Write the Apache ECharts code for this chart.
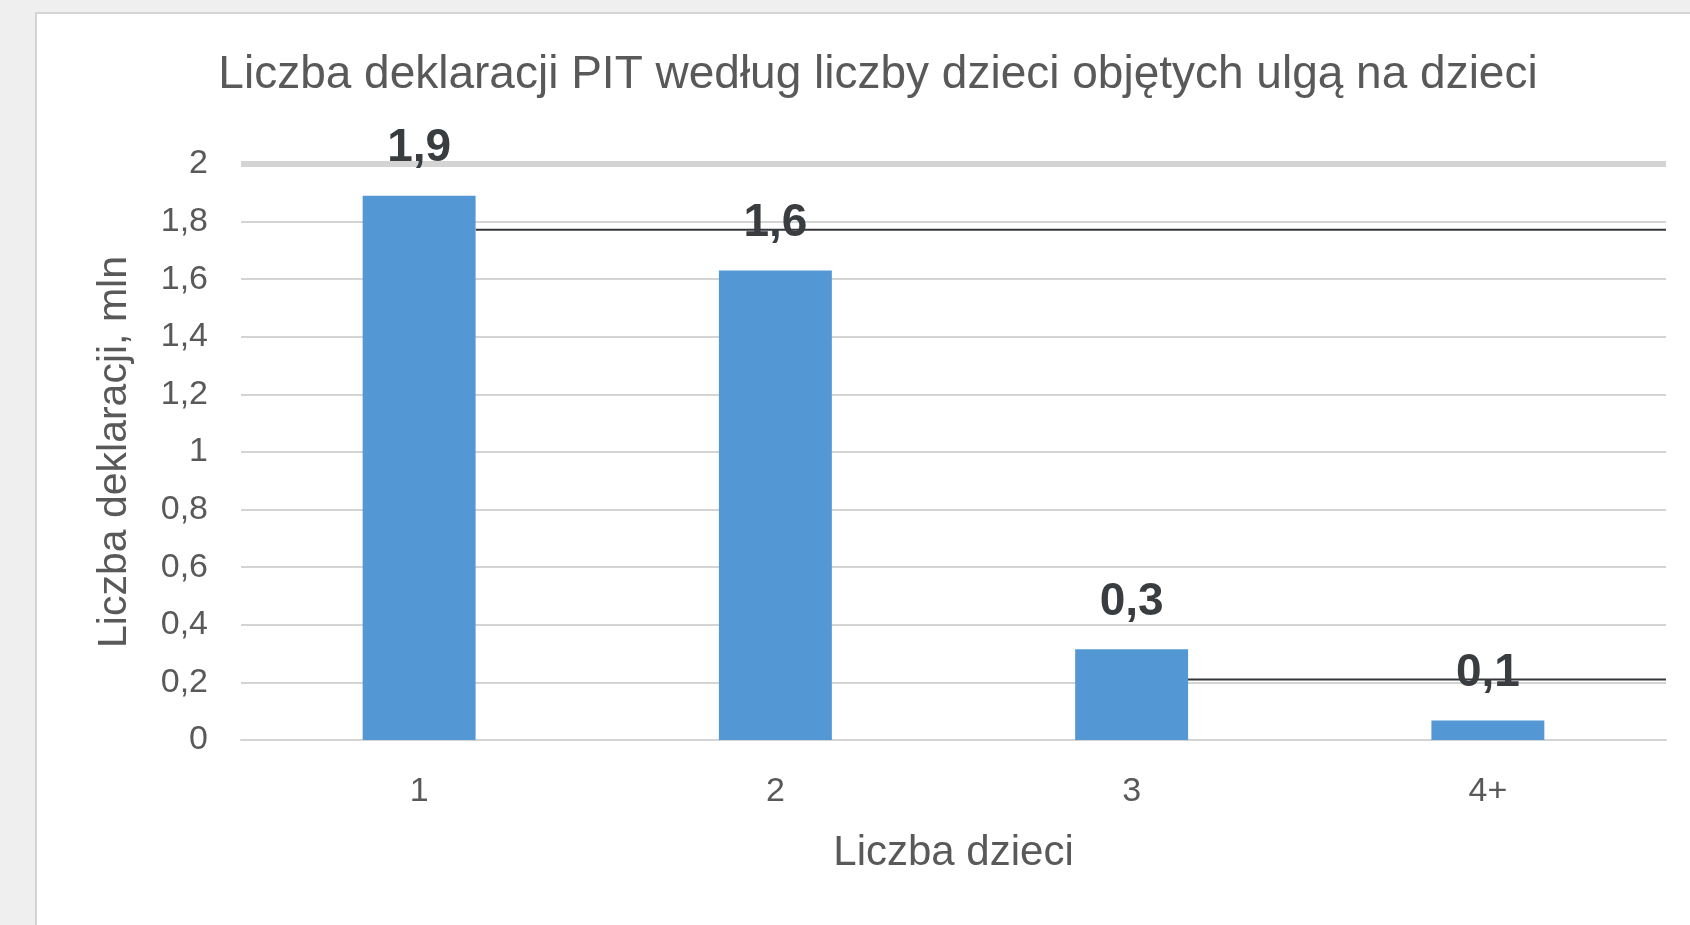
<!DOCTYPE html>
<html>
<head>
<meta charset="utf-8">
<title>Liczba deklaracji PIT</title>
<script src="https://cdn.jsdelivr.net/npm/echarts@6/dist/echarts.min.js"></script>
<style>
html, body { margin: 0; padding: 0; background: #efefef; }
.panel {
    position: absolute; left: 35px; top: 12px;
    width: 1700px; height: 960px;
    background: #ffffff; border: 2px solid #d4d4d4;
}
#myChart { position: absolute; left: 0; top: 0; width: 1690px; height: 925px; }
</style>
</head>
<body>
<div class="panel"></div>
<div id="myChart"></div>
<script>
// kategorie (liczba dzieci)
const categories = ['1', '2', '3', '4+'];
// liczba deklaracji, mln
const declarations = [1.89, 1.63, 0.315, 0.068];
// etykiety osi Y
const yTicks = [0, 0.2, 0.4, 0.6, 0.8, 1, 1.2, 1.4, 1.6, 1.8, 2];
// czarne linie na wykresie [x w jednostkach kategorii, wartość]
const blackLineA = [[0.659, 1.772], [4, 1.772]];
const blackLineB = [[2.656, 0.21], [4, 0.21]];

const font = 'Arial, "Liberation Sans", sans-serif';
const textColor = '#595959';

let chart = echarts.init(document.getElementById('myChart'));
let opt = {
    backgroundColor: 'transparent',
    animation: false,
    title: {
        text: 'Liczba deklaracji PIT według liczby dzieci objętych ulgą na dzieci',
        left: 878,
        top: 52,
        textAlign: 'center',
        padding: 0,
        textStyle: { fontFamily: font, fontSize: 46, fontWeight: 'normal', color: textColor }
    },
    grid: { left: 241, right: 24, top: 164, bottom: 185, containLabel: false },
    xAxis: [{
        type: 'category',
        data: categories,
        name: 'Liczba dzieci',
        nameLocation: 'middle',
        nameGap: 92,
        nameTextStyle: { fontFamily: font, fontSize: 42, color: textColor },
        axisLine: { show: true, lineStyle: { color: '#d4d4d4', width: 2 } },
        axisTick: { show: false },
        axisLabel: { fontFamily: font, fontSize: 34, color: textColor, margin: 35 }
    }, {
        type: 'value',
        min: 0,
        max: 4,
        show: false
    }],
    yAxis: {
        type: 'value',
        min: yTicks[0],
        max: yTicks[yTicks.length - 1],
        interval: 0.2,
        name: 'Liczba deklaracji, mln',
        nameLocation: 'middle',
        nameRotate: 90,
        nameGap: 106,
        nameTextStyle: { fontFamily: font, fontSize: 41, color: textColor },
        axisLine: { show: false },
        axisTick: { show: false },
        axisLabel: {
            fontFamily: font, fontSize: 34, color: textColor, margin: 33,
            formatter: function (v) { return String(+v.toFixed(1)).replace('.', ','); }
        },
        splitLine: { lineStyle: { color: '#d4d4d4', width: 2 } }
    },
    series: [{
        type: 'bar',
        data: declarations,
        barWidth: '31.7%',
        z: 3,
        itemStyle: { color: '#5398d4' },
        label: {
            show: true,
            position: 'top',
            distance: 24,
            fontFamily: font,
            fontSize: 46,
            fontWeight: 'bold',
            color: '#3a3d40',
            formatter: function (p) { return p.value.toFixed(1).replace('.', ','); }
        },
        markLine: {
            silent: true,
            z: 1,
            symbol: 'none',
            label: { show: false },
            lineStyle: { color: '#d4d4d4', width: 6, type: 'solid' },
            data: [{ yAxis: 2 }]
        }
    }, {
        type: 'line',
        xAxisIndex: 1,
        data: blackLineA,
        z: 2,
        symbol: 'none',
        lineStyle: { color: '#33363a', width: 2 }
    }, {
        type: 'line',
        xAxisIndex: 1,
        data: blackLineB,
        z: 2,
        symbol: 'none',
        lineStyle: { color: '#33363a', width: 2 }
    }]
};
chart.setOption(opt);
window.addEventListener('resize', function () {
    chart.resize();
});
</script>
</body>
</html>
